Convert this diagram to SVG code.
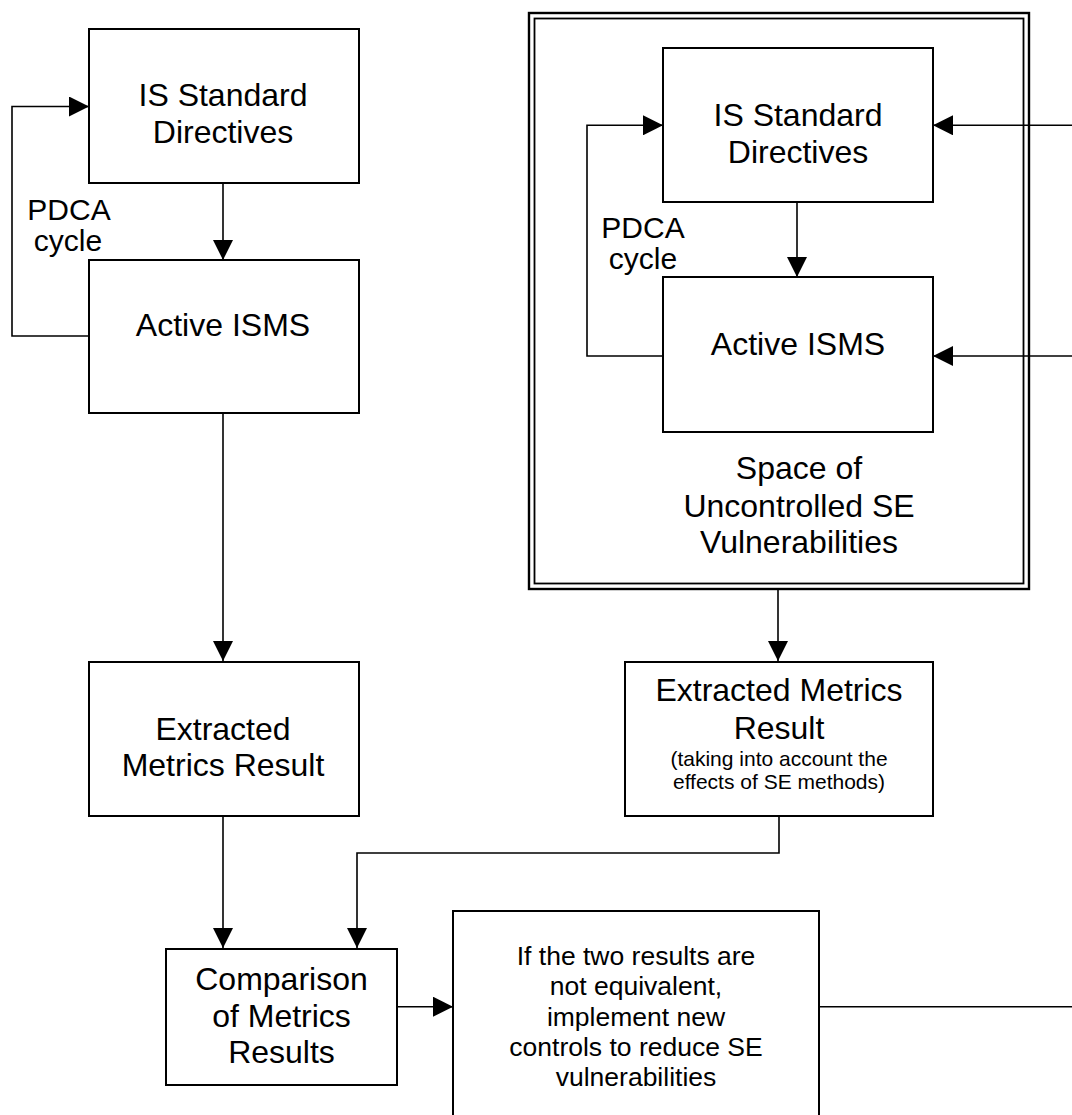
<svg xmlns="http://www.w3.org/2000/svg" width="1072" height="1115" viewBox="0 0 1072 1115">
  <style>
    .box { fill: #fff; stroke: #000; stroke-width: 2; }
    .frame { fill: none; stroke: #000; }
    .wire { fill: none; stroke: #000; stroke-width: 1.6; }
    .arrow { marker-end: url(#head); }
    text { font-family: "Liberation Sans", Arial, Helvetica, sans-serif; fill: #000; text-anchor: middle; }
    .lg { font-size: 32px; }
    .md { font-size: 30px; }
    .sm { font-size: 26.5px; }
    .xs { font-size: 21px; }
  </style>
  <defs>
    <marker id="head" viewBox="0 0 20 20" refX="20" refY="10" markerWidth="20" markerHeight="20" markerUnits="userSpaceOnUse" orient="auto">
      <path d="M0,0 L20,10 L0,20 Z" fill="#000"/>
    </marker>
  </defs>

  <rect width="1072" height="1115" fill="#fff"/>

  <!-- outer frame: space of uncontrolled SE vulnerabilities -->
  <g id="se-space">
    <rect class="frame" x="529" y="13" width="500" height="576" stroke-width="2.4"/>
    <rect class="frame" x="534.5" y="18.5" width="489" height="565" stroke-width="1.8"/>
    <text class="lg" x="799" y="479">Space of</text>
    <text class="lg" x="799" y="517">Uncontrolled SE</text>
    <text class="lg" x="799" y="553">Vulnerabilities</text>
  </g>

  <!-- left column -->
  <g id="is-standard-left">
    <rect class="box" x="89" y="29" width="270" height="154"/>
    <text class="lg" x="223" y="106">IS Standard</text>
    <text class="lg" x="223" y="143">Directives</text>
  </g>
  <g id="pdca-left">
    <text class="md" x="69" y="220">PDCA</text>
    <text class="md" x="68" y="251">cycle</text>
  </g>
  <g id="active-isms-left">
    <rect class="box" x="89" y="260" width="270" height="153"/>
    <text class="lg" x="223" y="336">Active ISMS</text>
  </g>
  <g id="metrics-left">
    <rect class="box" x="89" y="662" width="270" height="154"/>
    <text class="lg" x="223" y="740">Extracted</text>
    <text class="lg" x="223" y="776">Metrics Result</text>
  </g>

  <!-- right column -->
  <g id="is-standard-right">
    <rect class="box" x="663" y="48" width="270" height="154"/>
    <text class="lg" x="798" y="126">IS Standard</text>
    <text class="lg" x="798" y="163">Directives</text>
  </g>
  <g id="pdca-right">
    <text class="md" x="643" y="238">PDCA</text>
    <text class="md" x="643" y="269">cycle</text>
  </g>
  <g id="active-isms-right">
    <rect class="box" x="663" y="277" width="270" height="155"/>
    <text class="lg" x="798" y="355">Active ISMS</text>
  </g>
  <g id="metrics-right">
    <rect class="box" x="625" y="662" width="308" height="154"/>
    <text class="lg" x="779" y="701">Extracted Metrics</text>
    <text class="lg" x="779" y="739">Result</text>
    <text class="xs" x="779" y="766">(taking into account the</text>
    <text class="xs" x="779" y="789">effects of SE methods)</text>
  </g>

  <!-- bottom row -->
  <g id="comparison">
    <rect class="box" x="166" y="949" width="231" height="136"/>
    <text class="lg" x="281.5" y="990">Comparison</text>
    <text class="lg" x="281.5" y="1027">of Metrics</text>
    <text class="lg" x="281.5" y="1063">Results</text>
  </g>
  <g id="new-controls">
    <rect class="box" x="453" y="911" width="366" height="260"/>
    <text class="sm" x="636" y="965">If the two results are</text>
    <text class="sm" x="636" y="995">not equivalent,</text>
    <text class="sm" x="636" y="1026">implement new</text>
    <text class="sm" x="636" y="1056">controls to reduce SE</text>
    <text class="sm" x="636" y="1086">vulnerabilities</text>
  </g>

  <!-- connectors -->
  <g id="connectors">
    <path class="wire arrow" d="M223,183 L223,260"/>
    <path class="wire arrow" d="M89,336 L12,336 L12,106.5 L89,106.5"/>
    <path class="wire arrow" d="M223,413 L223,661"/>
    <path class="wire arrow" d="M223,816 L223,948"/>

    <path class="wire arrow" d="M797,202 L797,277"/>
    <path class="wire arrow" d="M663,356 L587,356 L587,125.3 L663,125.3"/>
    <path class="wire arrow" d="M1072,125.3 L933,125.3"/>
    <path class="wire arrow" d="M1072,356 L933,356"/>
    <path class="wire arrow" d="M778,589 L778,661"/>
    <path class="wire arrow" d="M779,816 L779,853 L357,853 L357,948"/>

    <path class="wire arrow" d="M397,1006.7 L453,1006.7"/>
    <path class="wire" d="M819,1006.7 L1072,1006.7"/>
  </g>
</svg>
